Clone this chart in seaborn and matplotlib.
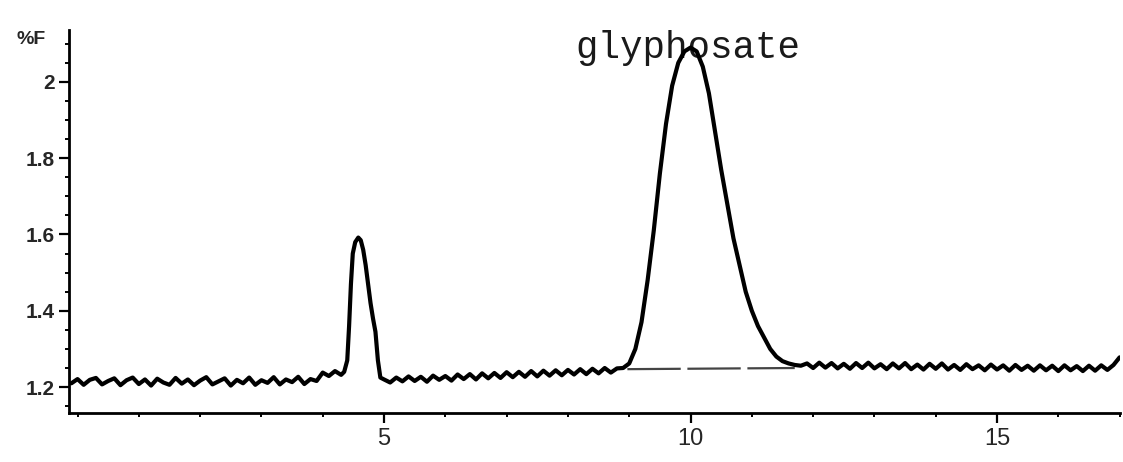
import matplotlib
matplotlib.use("Agg")
import matplotlib.pyplot as plt
from matplotlib.ticker import MultipleLocator
import seaborn as sns
import pandas as pd

# ---------------- data ----------------
# baseline before first peak
t_base1 = [-0.1, 0.0, 0.1, 0.2, 0.3, 0.4, 0.5, 0.6, 0.7, 0.8, 0.9,
           1.0, 1.1, 1.2, 1.3, 1.4, 1.5, 1.6, 1.7, 1.8, 1.9,
           2.0, 2.1, 2.2, 2.3, 2.4, 2.5, 2.6, 2.7, 2.8, 2.9,
           3.0, 3.1, 3.2, 3.3, 3.4, 3.5, 3.6, 3.7, 3.8, 3.9]
y_base1 = [1.210, 1.221, 1.206, 1.219, 1.224, 1.207, 1.216, 1.223, 1.205, 1.218,
           1.225, 1.208, 1.220, 1.204, 1.222, 1.212, 1.206, 1.224, 1.209, 1.220,
           1.205, 1.217, 1.226, 1.207, 1.215, 1.223, 1.204, 1.219, 1.210, 1.225,
           1.206, 1.218, 1.211, 1.226, 1.207, 1.220, 1.213, 1.227, 1.208, 1.221,
           1.216]

# small step and first (unlabelled) peak
t_peak1 = [4.0, 4.1, 4.2, 4.3, 4.35, 4.40, 4.43, 4.46, 4.49, 4.53, 4.58,
           4.62, 4.66, 4.70, 4.74, 4.78, 4.82, 4.86, 4.90, 4.94]
y_peak1 = [1.238, 1.229, 1.242, 1.232, 1.240, 1.27, 1.36, 1.47, 1.55, 1.58, 1.592,
           1.585, 1.56, 1.52, 1.47, 1.42, 1.38, 1.345, 1.27, 1.225]

# baseline between the peaks
t_base2 = [5.0, 5.1, 5.2, 5.3, 5.4, 5.5, 5.6, 5.7, 5.8, 5.9,
           6.0, 6.1, 6.2, 6.3, 6.4, 6.5, 6.6, 6.7, 6.8, 6.9,
           7.0, 7.1, 7.2, 7.3, 7.4, 7.5, 7.6, 7.7, 7.8, 7.9,
           8.0, 8.1, 8.2, 8.3, 8.4, 8.5, 8.6, 8.7, 8.8]
y_base2 = [1.220, 1.212, 1.225, 1.215, 1.228, 1.216, 1.227, 1.214, 1.230, 1.219,
           1.229, 1.217, 1.233, 1.221, 1.234, 1.220, 1.236, 1.223, 1.237, 1.224,
           1.239, 1.226, 1.240, 1.227, 1.242, 1.228, 1.243, 1.230, 1.244, 1.231,
           1.245, 1.233, 1.247, 1.234, 1.248, 1.236, 1.250, 1.238, 1.249]

# glyphosate peak
t_peak2 = [8.9, 9.0, 9.1, 9.2, 9.3, 9.4, 9.5, 9.6, 9.7, 9.8, 9.9,
           10.0, 10.1, 10.2, 10.3, 10.4, 10.5, 10.6, 10.7, 10.8, 10.9,
           11.0, 11.1, 11.2, 11.3, 11.4, 11.5, 11.6, 11.7, 11.8]
y_peak2 = [1.250, 1.262, 1.30, 1.37, 1.48, 1.61, 1.76, 1.89, 1.99, 2.05, 2.08,
           2.09, 2.08, 2.04, 1.97, 1.87, 1.77, 1.68, 1.59, 1.52, 1.45,
           1.40, 1.36, 1.33, 1.30, 1.28, 1.268, 1.262, 1.258, 1.256]

# baseline after the main peak
t_base3 = [11.9, 12.0, 12.1, 12.2, 12.3, 12.4, 12.5, 12.6, 12.7, 12.8, 12.9,
           13.0, 13.1, 13.2, 13.3, 13.4, 13.5, 13.6, 13.7, 13.8, 13.9,
           14.0, 14.1, 14.2, 14.3, 14.4, 14.5, 14.6, 14.7, 14.8, 14.9,
           15.0, 15.1, 15.2, 15.3, 15.4, 15.5, 15.6, 15.7, 15.8, 15.9,
           16.0, 16.1, 16.2, 16.3, 16.4, 16.5, 16.6, 16.7, 16.8, 16.9, 17.0]
y_base3 = [1.262, 1.250, 1.264, 1.251, 1.263, 1.249, 1.261, 1.248, 1.263, 1.250, 1.264,
           1.249, 1.260, 1.247, 1.262, 1.249, 1.263, 1.247, 1.259, 1.246, 1.261,
           1.248, 1.262, 1.246, 1.258, 1.245, 1.260, 1.247, 1.257, 1.244, 1.259,
           1.246, 1.257, 1.243, 1.258, 1.245, 1.256, 1.243, 1.257, 1.244, 1.256,
           1.242, 1.257, 1.244, 1.255, 1.242, 1.256, 1.243, 1.257, 1.245, 1.258, 1.278]

# integration baseline under the glyphosate peak
integ_t = [8.97, 11.7]
integ_y = [1.247, 1.250]

peak_label = "glyphosate"
peak_label_t = 8.12
peak_label_y = 2.063

x_ticks = [5, 10, 15]
y_ticks = [1.2, 1.4, 1.6, 1.8, 2.0]
y_ticklabels = ["1.2", "1.4", "1.6", "1.8", "2"]
y_label = "%F"

time_min = t_base1 + t_peak1 + t_base2 + t_peak2 + t_base3
signal = y_base1 + y_peak1 + y_base2 + y_peak2 + y_base3
df = pd.DataFrame({"time": time_min, "signal": signal})

# ---------------- drawing ----------------
sns.set_style("ticks")
plt.rcParams["font.family"] = ["Liberation Sans", "DejaVu Sans"]

fig = plt.figure(figsize=(11.23, 4.62), dpi=100)
ax = fig.add_axes([0.0614, 0.106, 0.9356, 0.829])

# dashed integration baseline
ax.plot(integ_t, integ_y, color="#444444", linewidth=1.6,
        linestyle=(0, (24, 3)), zorder=2)

# peak label (drawn below the trace)
ax.text(peak_label_t, peak_label_y, peak_label, fontsize=27,
        family=["Liberation Mono", "DejaVu Sans Mono"], color="#1a1a1a",
        ha="left", va="baseline", zorder=1)

sns.lineplot(data=df, x="time", y="signal", ax=ax, color="black",
             linewidth=3.0, sort=False, estimator=None, zorder=3)

ax.set_xlim(-0.14, 17.0)
ax.set_ylim(1.132, 2.136)

ax.set_xticks(x_ticks)
ax.set_xticklabels([str(v) for v in x_ticks], fontsize=17)
ax.xaxis.set_minor_locator(MultipleLocator(1))
ax.set_yticks(y_ticks)
ax.set_yticklabels(y_ticklabels, fontsize=15, fontweight="bold")
ax.yaxis.set_minor_locator(MultipleLocator(0.05))

ax.tick_params(axis="both", which="major", direction="out", length=7,
               width=1.6, color="black")
ax.tick_params(axis="both", which="minor", direction="out", length=3,
               width=1.4, color="black")
ax.tick_params(axis="y", which="major", pad=3)
ax.tick_params(axis="x", which="major", pad=4)

ax.set_xlabel("")
ax.set_ylabel("")
ax.text(-0.022, 0.975, y_label, transform=ax.transAxes, fontsize=14,
        fontweight="bold", ha="right", va="center")

for side in ("top", "right"):
    ax.spines[side].set_visible(False)
for side in ("left", "bottom"):
    ax.spines[side].set_linewidth(2.0)
    ax.spines[side].set_color("black")

fig.savefig("out.png", dpi=100, facecolor="white")
